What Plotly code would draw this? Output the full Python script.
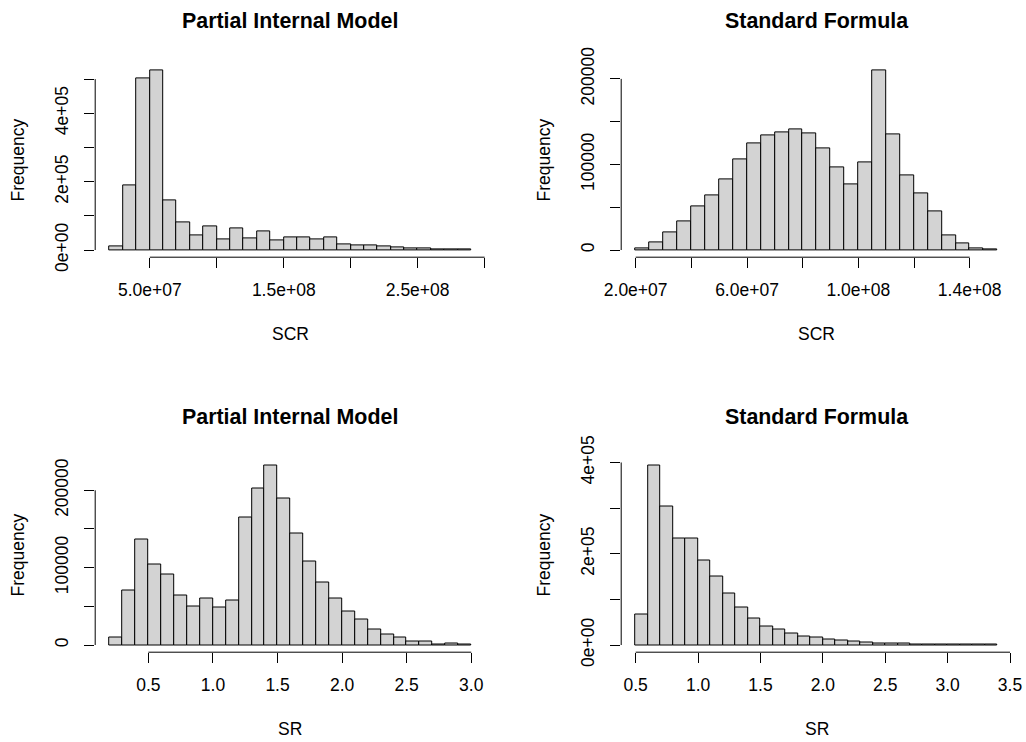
import plotly.graph_objects as go

W, H = 1026, 742
FONT = "Liberation Sans"
FS = 17.5
FS_TITLE = 21.4

# ---------------- data ----------------
# Partial Internal Model - SCR (bin edges, counts)
pim_scr_edges = [2.0e7, 3.0e7, 4.0e7, 5.0e7, 6.0e7, 7.0e7, 8.0e7, 9.0e7, 1.0e8, 1.1e8,
                 1.2e8, 1.3e8, 1.4e8, 1.5e8, 1.6e8, 1.7e8, 1.8e8, 1.9e8, 2.0e8, 2.1e8,
                 2.2e8, 2.3e8, 2.4e8, 2.5e8, 2.6e8, 2.7e8, 2.8e8, 2.9e8]
pim_scr_counts = [10000, 190000, 501000, 525000, 145000, 80000, 44000, 68000, 32000, 63000,
                  34000, 54000, 29000, 38000, 36000, 30000, 36000, 17000, 15000, 13000,
                  11000, 8000, 6000, 4000, 2000, 1000, 500]

# Standard Formula - SCR
sf_scr_edges = [2.0e7, 2.5e7, 3.0e7, 3.5e7, 4.0e7, 4.5e7, 5.0e7, 5.5e7, 6.0e7, 6.5e7,
                7.0e7, 7.5e7, 8.0e7, 8.5e7, 9.0e7, 9.5e7, 1.0e8, 1.05e8, 1.1e8, 1.15e8,
                1.2e8, 1.25e8, 1.3e8, 1.35e8, 1.4e8, 1.45e8, 1.5e8]
sf_scr_counts = [1500, 8600, 21000, 34000, 50700, 64000, 82700, 106000, 125000, 134000,
                 138000, 141500, 136500, 119000, 96700, 76400, 102500, 209700, 135000, 87000,
                 66700, 45000, 17000, 8200, 1500, 500]

# Partial Internal Model - SR
pim_sr_edges = [0.2, 0.3, 0.4, 0.5, 0.6, 0.7, 0.8, 0.9, 1.0, 1.1, 1.2, 1.3, 1.4, 1.5, 1.6,
                1.7, 1.8, 1.9, 2.0, 2.1, 2.2, 2.3, 2.4, 2.5, 2.6, 2.7, 2.8, 2.9, 3.0]
pim_sr_counts = [9900, 71000, 136800, 103700, 90800, 64000, 50300, 60200, 48600, 58000,
                 164700, 202000, 231800, 190000, 144500, 108000, 80900, 59800, 43400, 33100,
                 20200, 13800, 9500, 5200, 4300, 900, 2200, 500]

# Standard Formula - SR
sf_sr_edges = [0.5, 0.6, 0.7, 0.8, 0.9, 1.0, 1.1, 1.2, 1.3, 1.4, 1.5, 1.6, 1.7, 1.8, 1.9,
               2.0, 2.1, 2.2, 2.3, 2.4, 2.5, 2.6, 2.7, 2.8, 2.9, 3.0, 3.1, 3.2, 3.3, 3.4]
sf_sr_counts = [67900, 393000, 303000, 233600, 232800, 186000, 149600, 113000, 81800, 57700,
                41600, 33600, 26300, 19700, 16800, 12400, 9500, 7300, 5100, 4400,
                3600, 2900, 2200, 1500, 1400, 1000, 800, 600, 500]

# tick values and labels
pim_scr_xticks = [5e7, 1e8, 1.5e8, 2e8, 2.5e8, 3e8]
pim_scr_xlabels = ["5.0e+07", "", "1.5e+08", "", "2.5e+08", ""]
sf_scr_xticks = [2e7, 4e7, 6e7, 8e7, 1e8, 1.2e8, 1.4e8]
sf_scr_xlabels = ["2.0e+07", "", "6.0e+07", "", "1.0e+08", "", "1.4e+08"]
pim_sr_xticks = [0.5, 1.0, 1.5, 2.0, 2.5, 3.0]
pim_sr_xlabels = ["0.5", "1.0", "1.5", "2.0", "2.5", "3.0"]
sf_sr_xticks = [0.5, 1.0, 1.5, 2.0, 2.5, 3.0, 3.5]
sf_sr_xlabels = ["0.5", "1.0", "1.5", "2.0", "2.5", "3.0", "3.5"]

sci_yticks = [0, 1e5, 2e5, 3e5, 4e5, 5e5]
sci_ylabels = ["0e+00", "", "2e+05", "", "4e+05", ""]
int_yticks = [0, 50000, 100000, 150000, 200000]
int_ylabels = ["0", "", "100000", "", "200000"]
sci4_yticks = [0, 1e5, 2e5, 3e5, 4e5]
sci4_ylabels = ["0e+00", "", "2e+05", "", "4e+05"]

titles = ["Partial Internal Model", "Standard Formula", "Partial Internal Model", "Standard Formula"]
xtitles = ["SCR", "SCR", "SR", "SR"]

# ---------------- layout geometry (pixels) ----------------
col_px = [(95.2, 485.7), (621.2, 1012.0)]
row_px = [(63.4, 257.2), (458.5, 652.2)]

panels = [
    dict(edges=pim_scr_edges, counts=pim_scr_counts, xt=pim_scr_xticks, xl=pim_scr_xlabels,
         yt=sci_yticks, yl=sci_ylabels, col=0, row=0),
    dict(edges=sf_scr_edges, counts=sf_scr_counts, xt=sf_scr_xticks, xl=sf_scr_xlabels,
         yt=int_yticks, yl=int_ylabels, col=1, row=0),
    dict(edges=pim_sr_edges, counts=pim_sr_counts, xt=pim_sr_xticks, xl=pim_sr_xlabels,
         yt=int_yticks, yl=int_ylabels, col=0, row=1),
    dict(edges=sf_sr_edges, counts=sf_sr_counts, xt=sf_sr_xticks, xl=sf_sr_xlabels,
         yt=sci4_yticks, yl=sci4_ylabels, col=1, row=1),
]

fig = go.Figure()
shapes = []
annotations = []
layout = {}

for i, p in enumerate(panels):
    n = i + 1
    xa = "x" if n == 1 else f"x{n}"
    ya = "y" if n == 1 else f"y{n}"
    edges = p["edges"]
    counts = p["counts"]
    centers = [(edges[k] + edges[k + 1]) / 2 for k in range(len(counts))]
    widths = [edges[k + 1] - edges[k] for k in range(len(counts))]
    fig.add_trace(go.Bar(
        x=centers, y=counts, width=widths, xaxis=xa, yaxis=ya,
        marker=dict(color="#D3D3D3", line=dict(color="black", width=1)),
        hoverinfo="x+y", showlegend=False,
    ))
    # R-style 4% extended ranges
    x0, x1 = edges[0], edges[-1]
    dx = (x1 - x0) * 0.04
    ymax = max(counts)
    dy = ymax * 0.04
    c0, c1 = col_px[p["col"]]
    r0, r1 = row_px[p["row"]]
    xdom = [c0 / W, c1 / W]
    ydom = [1 - r1 / H, 1 - r0 / H]
    axcommon = dict(showline=False, showgrid=False, zeroline=False, ticks="outside",
                    ticklen=10, tickwidth=1, tickcolor="black", automargin=False,
                    tickfont=dict(family=FONT, size=FS, color="black"),
                    tickmode="array", fixedrange=True)
    layout["xaxis" if n == 1 else f"xaxis{n}"] = dict(
        domain=xdom, range=[x0 - dx, x1 + dx], anchor=ya,
        tickvals=p["xt"], ticktext=p["xl"], ticklabelstandoff=7, **axcommon)
    layout["yaxis" if n == 1 else f"yaxis{n}"] = dict(
        domain=ydom, range=[-dy, ymax + dy], anchor=xa,
        tickvals=p["yt"], ticktext=p["yl"], tickangle=-90, ticklabelstandoff=9, **axcommon)
    # axis lines spanning first to last tick (R style)
    shapes.append(dict(type="line", xref=xa, yref=f"{ya} domain",
                       x0=p["xt"][0], x1=p["xt"][-1], y0=0, y1=0,
                       line=dict(color="black", width=1)))
    shapes.append(dict(type="line", xref=f"{xa} domain", yref=ya,
                       x0=0, x1=0, y0=p["yt"][0], y1=p["yt"][-1],
                       line=dict(color="black", width=1)))
    # titles
    cx = (c0 + c1) / 2 / W
    annotations.append(dict(text="<b>" + titles[i] + "</b>", x=cx, y=1 - (r0 - 42) / H,
                            xref="paper", yref="paper", showarrow=False,
                            xanchor="center", yanchor="middle",
                            font=dict(family=FONT, size=FS_TITLE, color="black")))
    annotations.append(dict(text=xtitles[i], x=cx, y=1 - (r1 + 77) / H,
                            xref="paper", yref="paper", showarrow=False,
                            xanchor="center", yanchor="middle",
                            font=dict(family=FONT, size=FS, color="black")))
    annotations.append(dict(text="Frequency", x=(c0 - 77) / W, y=1 - (r0 + r1) / 2 / H,
                            xref="paper", yref="paper", showarrow=False, textangle=-90,
                            xanchor="center", yanchor="middle",
                            font=dict(family=FONT, size=FS, color="black")))

layout.update(dict(width=W, height=H, margin=dict(l=0, r=0, t=0, b=0, autoexpand=False),
                   template="none",
                   paper_bgcolor="white", plot_bgcolor="white", showlegend=False,
                   bargap=0, shapes=shapes, annotations=annotations))
fig.update_layout(**layout)
fig.write_html("out.html")
